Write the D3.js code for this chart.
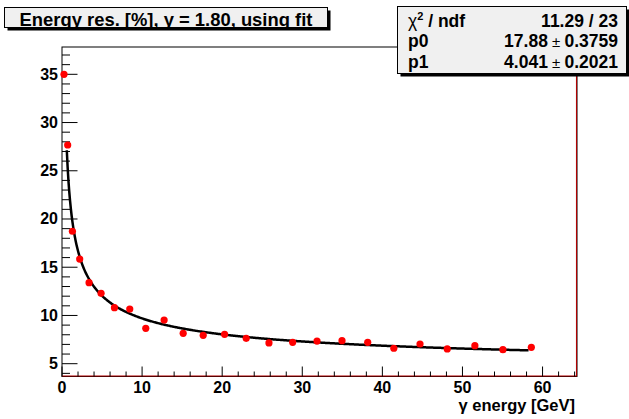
<!DOCTYPE html>
<html>
<head>
<meta charset="utf-8">
<script src="https://cdn.jsdelivr.net/npm/d3@7/dist/d3.min.js"></script>
<style>
  body { margin: 0; background: #fff; }
  text { font-family: "Liberation Sans", Arial, sans-serif; font-weight: bold; }
</style>
</head>
<body>
<svg width="629" height="419"></svg>
<script>
// gamma energy [GeV] and resolution [%]
const energy = [0.25, 0.71, 1.3, 2.21, 3.38, 4.88, 6.55, 8.46, 10.46, 12.75, 15.13, 17.63, 20.3,
  23.0, 25.84, 28.8, 31.84, 34.96, 38.17, 41.43, 44.7, 48.1, 51.55, 55.05, 58.6];
const resolution = [35.0, 27.67, 18.73, 15.85, 13.4, 12.3, 10.81, 10.67, 8.67, 9.53, 8.15, 7.94, 8.05,
  7.63, 7.15, 7.22, 7.35, 7.39, 7.22, 6.6, 7.04, 6.53, 6.87, 6.45, 6.7];

const xTicks = [0, 10, 20, 30, 40, 50, 60];
const yTicks = [5, 10, 15, 20, 25, 30, 35];
const fitRange = [0.6, 58.25];
const p0 = 17.88, p1 = 4.041;
const stats = [
  ["χ2 / ndf", "11.29 / 23"],
  ["p0", "17.88 ± 0.3759"],
  ["p1", "4.041 ± 0.2021"]
];
const title = "Energy res. [%], y = 1.80, using fit";

const svg = d3.select('svg');
const fr = { l: 62, r: 577, t: 47, b: 376.5 };

const x = d3.scaleLinear().domain([0, 64.3]).range([fr.l, fr.r]);
const y = d3.scaleLinear().domain([3.673, 37.83]).range([fr.b, fr.t]);

// frame
svg.append('rect')
  .attr('x', fr.l).attr('y', fr.t)
  .attr('width', fr.r - fr.l).attr('height', fr.b - fr.t)
  .attr('fill', 'none').attr('stroke', '#000').attr('stroke-width', 1);

// histogram outline clipped at bottom / right edge
svg.append('path')
  .attr('d', `M${fr.l},${fr.b - 0.5}H${fr.r - 0.5}V${fr.t}`)
  .attr('fill', 'none').attr('stroke', '#b00000').attr('stroke-width', 1.1);

// x axis ticks
const xMinor = d3.range(0, 64.3, 2);
svg.append('g').selectAll('line').data(xMinor).join('line')
  .attr('x1', d => x(d)).attr('x2', d => x(d))
  .attr('y1', fr.b).attr('y2', d => fr.b - (d % 10 === 0 ? 10 : 5))
  .attr('stroke', '#000').attr('stroke-width', 1);
svg.append('g').selectAll('text').data(xTicks).join('text')
  .attr('x', d => x(d)).attr('y', 392.5)
  .attr('text-anchor', 'middle').attr('font-size', 16)
  .text(d => d);

// y axis ticks
const yMinor = d3.range(4, 38, 1);
svg.append('g').selectAll('line').data(yMinor).join('line')
  .attr('x1', fr.l).attr('x2', d => fr.l + (d % 5 === 0 ? 15.5 : 8))
  .attr('y1', d => y(d)).attr('y2', d => y(d))
  .attr('stroke', '#000').attr('stroke-width', 1);
svg.append('g').selectAll('text').data(yTicks).join('text')
  .attr('x', 58).attr('y', d => y(d) + 5.5)
  .attr('text-anchor', 'end').attr('font-size', 16)
  .text(d => d);

// axis title
svg.append('text')
  .attr('x', 575).attr('y', 411)
  .attr('text-anchor', 'end').attr('font-size', 16.5)
  .text('γ energy [GeV]');

// fit curve
const fit = e => p0 / Math.sqrt(e) + p1;
const fitX = d3.range(fitRange[0], fitRange[1], 0.1).concat([fitRange[1]]);
svg.append('path')
  .datum(fitX)
  .attr('d', d3.line().x(d => x(d)).y(d => y(fit(d))))
  .attr('fill', 'none').attr('stroke', '#000').attr('stroke-width', 2.5);

// points
svg.append('g').selectAll('circle').data(energy).join('circle')
  .attr('cx', d => x(d)).attr('cy', (d, i) => y(resolution[i]))
  .attr('r', 3.6).attr('fill', '#ff0000');

// title box
const tb = { x: 4.5, y: 7.5, w: 323, h: 20 };
svg.append('rect').attr('x', tb.x + 3).attr('y', tb.y + 3).attr('width', tb.w).attr('height', tb.h).attr('fill', '#000');
svg.append('rect').attr('x', tb.x).attr('y', tb.y).attr('width', tb.w).attr('height', tb.h)
  .attr('fill', '#f0f0f0').attr('stroke', '#000').attr('stroke-width', 1);
svg.append('text').attr('x', 166).attr('y', 26).attr('text-anchor', 'middle')
  .attr('font-size', 18.4).text(title);

// stats box
const sb = { x: 397.5, y: 6.5, w: 229, h: 67 };
svg.append('rect').attr('x', sb.x + 3).attr('y', sb.y + 3).attr('width', sb.w).attr('height', sb.h).attr('fill', '#000');
svg.append('rect').attr('x', sb.x).attr('y', sb.y).attr('width', sb.w).attr('height', sb.h)
  .attr('fill', '#f0f0f0').attr('stroke', '#000').attr('stroke-width', 1);
const rowY = [26.5, 46.5, 68];
stats.forEach((r, i) => {
  const lab = svg.append('text').attr('x', 408).attr('y', rowY[i]).attr('font-size', 17.5);
  if (i === 0) {
    lab.append('tspan').attr('font-weight', 'normal').text('χ');
    lab.append('tspan').attr('font-size', 11).attr('dy', -7).text('2');
    lab.append('tspan').attr('dy', 7).text(' / ndf');
  } else {
    lab.text(r[0]);
  }
  const val = svg.append('text').attr('x', 618).attr('y', rowY[i]).attr('text-anchor', 'end')
    .attr('font-size', 17.5);
  if (i === 0) {
    val.text(r[1]);
  } else {
    const parts = r[1].split(' ± ');
    val.append('tspan').text(parts[0]);
    val.append('tspan').attr('font-weight', 'normal').attr('font-size', 15).text(' ± ');
    val.append('tspan').text(parts[1]);
  }
});
</script>
</body>
</html>
